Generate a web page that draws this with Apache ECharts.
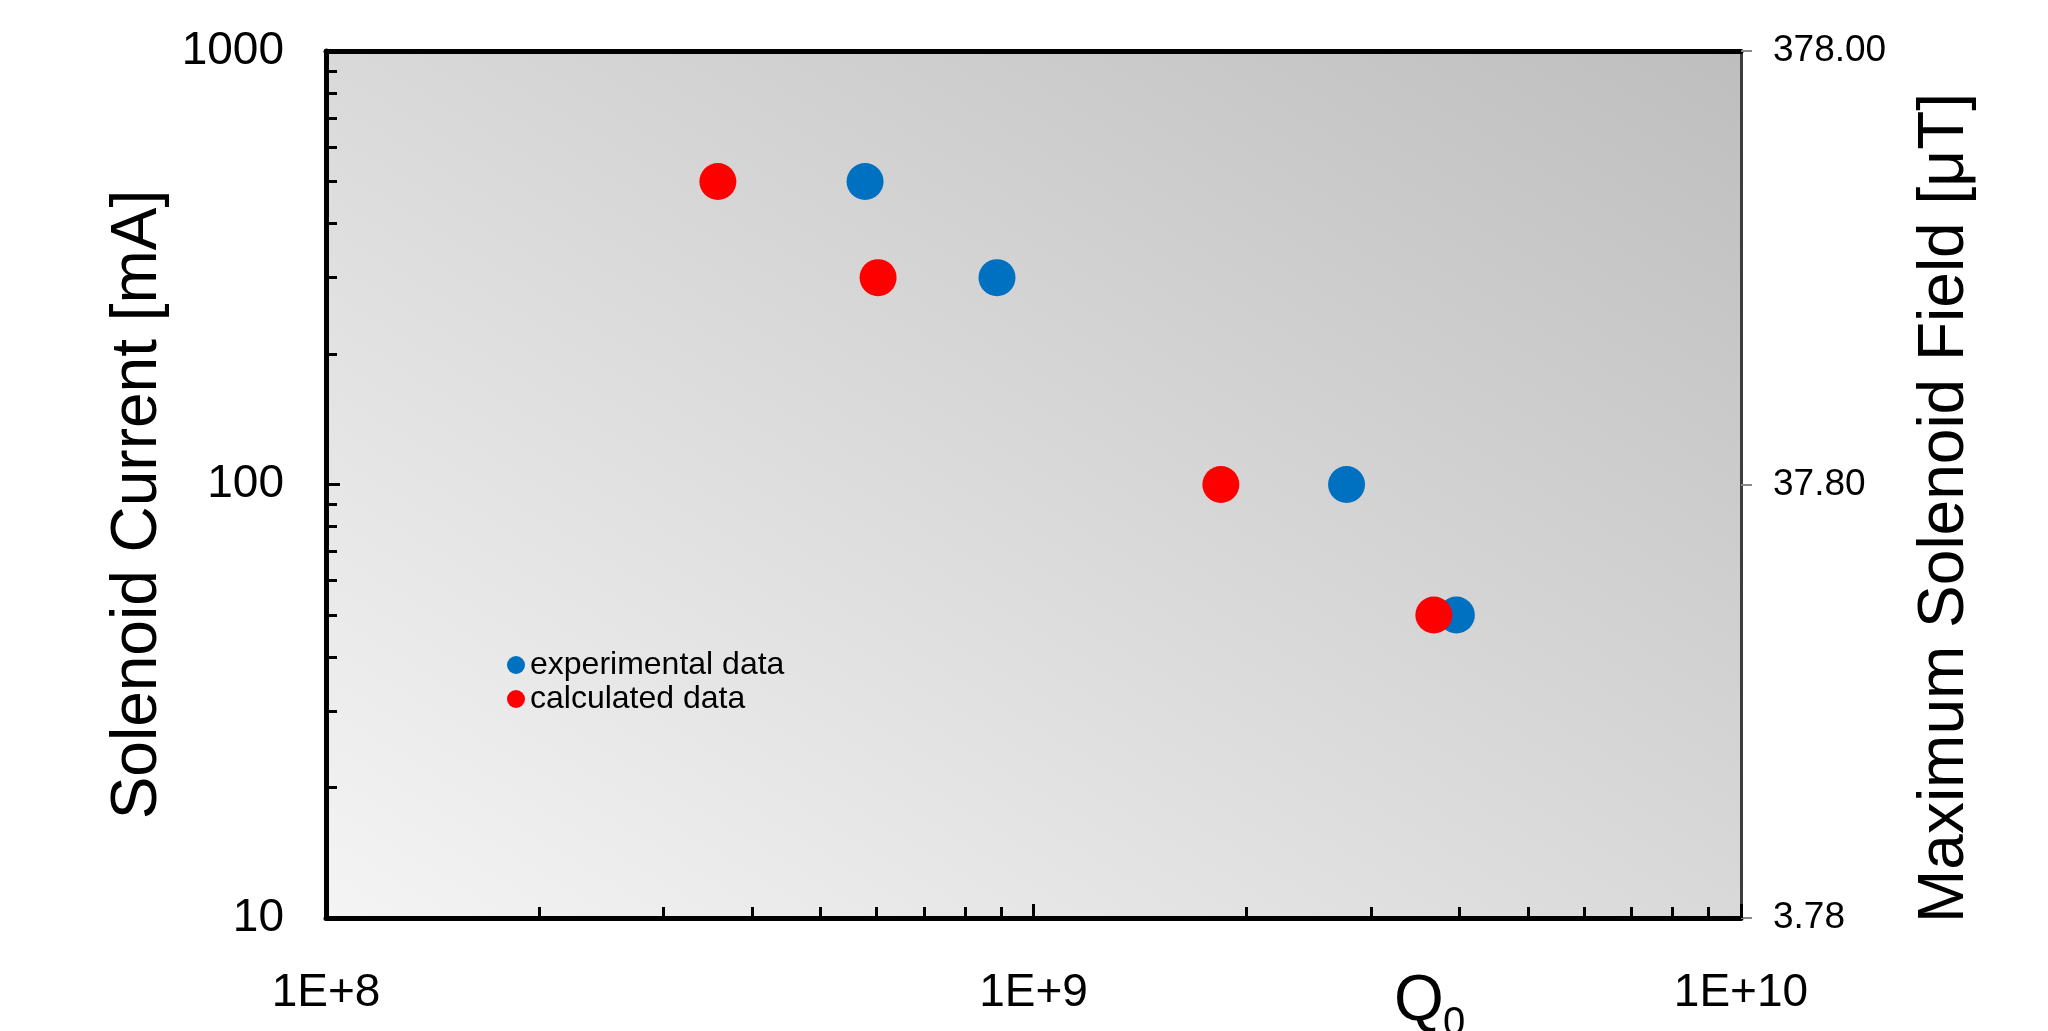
<!DOCTYPE html>
<html>
<head>
<meta charset="utf-8">
<title>Solenoid Current vs Q0</title>
<script src="https://cdn.jsdelivr.net/npm/echarts@6/dist/echarts.min.js"></script>
<style>
html, body { margin: 0; padding: 0; background: #fff; }
#main { width: 2048px; height: 1031px; }
</style>
</head>
<body>
<div id="main"></div>
<script>
const current = [500, 300, 100, 50];
const experimentalQ = [5.78e8, 8.88e8, 2.77e9, 3.96e9];
const calculatedQ = [3.58e8, 6.03e8, 1.84e9, 3.68e9];

const xMinorTicks = [2e8, 3e8, 4e8, 5e8, 6e8, 7e8, 8e8, 9e8, 2e9, 3e9, 4e9, 5e9, 6e9, 7e9, 8e9, 9e9];
const yMinorTicks = [20, 30, 40, 50, 60, 70, 80, 90, 200, 300, 400, 500, 600, 700, 800, 900];
const fieldLabels = ['3.78', '37.80', '378.00'];

const font = 'Liberation Sans';

let myChart = echarts.init(document.getElementById('main'));

const hiddenLog = (extra) => Object.assign({
    type: 'log',
    axisLine: { show: false },
    axisTick: { show: false },
    axisLabel: { show: false },
    splitLine: { show: false }
}, extra);

myChart.setOption({
    animation: false,
    backgroundColor: '#fff',
    textStyle: { fontFamily: font },
    grid: {
        left: 326,
        right: 307,
        top: 51,
        bottom: 113,
        show: true,
        borderWidth: 0,
        // light in the bottom-left corner, darkest top-right
        backgroundColor: new echarts.graphic.LinearGradient(0.227, 1.227, 0.773, -0.227, [
            { offset: 0, color: '#f4f4f4' },
            { offset: 1, color: '#bebebe' }
        ])
    },
    legend: {
        orient: 'vertical',
        left: 502,
        top: 644,
        itemGap: 2,
        itemWidth: 18,
        itemHeight: 18,
        icon: 'circle',
        textStyle: { fontSize: 32, color: '#000', fontFamily: font },
        data: ['experimental data', 'calculated data']
    },
    xAxis: [{
        type: 'log',
        min: 1e8,
        max: 1e10,
        position: 'bottom',
        axisLine: { lineStyle: { color: '#000', width: 5 } },
        axisTick: { inside: true, length: 14, lineStyle: { color: '#000', width: 3 } },
        axisLabel: {
            fontSize: 46,
            color: '#000',
            fontFamily: font,
            margin: 52,
            formatter: (v) => '1E+' + Math.round(Math.log10(v))
        },
        splitLine: { show: false }
    }, hiddenLog({
        min: 1e8,
        max: 1e10,
        position: 'bottom',
        axisTick: {
            show: true,
            inside: true,
            length: 11,
            customValues: xMinorTicks,
            lineStyle: { color: '#000', width: 3 }
        }
    }), hiddenLog({
        min: 1e8,
        max: 1e10,
        position: 'top',
        axisLine: { show: true, lineStyle: { color: '#000', width: 5 } }
    })],
    yAxis: [{
        type: 'log',
        min: 10,
        max: 1000,
        position: 'left',
        name: 'Solenoid Current [mA]',
        nameLocation: 'middle',
        nameRotate: 90,
        nameGap: 142,
        nameTextStyle: { fontSize: 64, color: '#000', fontFamily: font, padding: [0, 40, 0, 0] },
        axisLine: { lineStyle: { color: '#000', width: 5 } },
        axisTick: { inside: true, length: 14, lineStyle: { color: '#000', width: 3 } },
        axisLabel: {
            fontSize: 46,
            color: '#000',
            fontFamily: font,
            margin: 42,
            padding: [8, 0, 0, 0],
            formatter: (v) => String(v)
        },
        splitLine: { show: false }
    }, hiddenLog({
        min: 10,
        max: 1000,
        position: 'left',
        axisTick: {
            show: true,
            inside: true,
            length: 11,
            customValues: yMinorTicks,
            lineStyle: { color: '#000', width: 3 }
        }
    }), {
        type: 'value',
        min: 0,
        max: 2,
        interval: 1,
        position: 'right',
        name: 'Maximum Solenoid Field [μT]',
        nameLocation: 'middle',
        nameRotate: 90,
        nameGap: 172,
        nameTextStyle: { fontSize: 64, color: '#000', fontFamily: font, padding: [0, 47, 0, 0] },
        axisLine: { show: true, lineStyle: { color: '#3c3c3c', width: 3 } },
        axisTick: { show: true, length: 11, lineStyle: { color: '#888', width: 2 } },
        axisLabel: {
            fontSize: 37,
            color: '#000',
            fontFamily: font,
            margin: 32,
            padding: [5, 0, 0, 0],
            formatter: (v, i) => fieldLabels[i]
        },
        splitLine: { show: false }
    }],
    graphic: [{
        type: 'text',
        x: 1394,
        y: 1002,
        style: { text: 'Q', fontSize: 64, fontFamily: font, fill: '#000', align: 'left', verticalAlign: 'middle' }
    }, {
        type: 'text',
        x: 1443,
        y: 1024,
        style: { text: '0', fontSize: 40, fontFamily: font, fill: '#000', align: 'left', verticalAlign: 'middle' }
    }],
    series: [{
        name: 'experimental data',
        type: 'scatter',
        xAxisIndex: 0,
        yAxisIndex: 0,
        symbolSize: 37,
        itemStyle: { color: '#0070C0', opacity: 1 },
        data: experimentalQ.map((q, i) => [q, current[i]])
    }, {
        name: 'calculated data',
        type: 'scatter',
        xAxisIndex: 0,
        yAxisIndex: 0,
        symbolSize: 37,
        itemStyle: { color: '#FF0000', opacity: 1 },
        data: calculatedQ.map((q, i) => [q, current[i]])
    }]
});
</script>
</body>
</html>
